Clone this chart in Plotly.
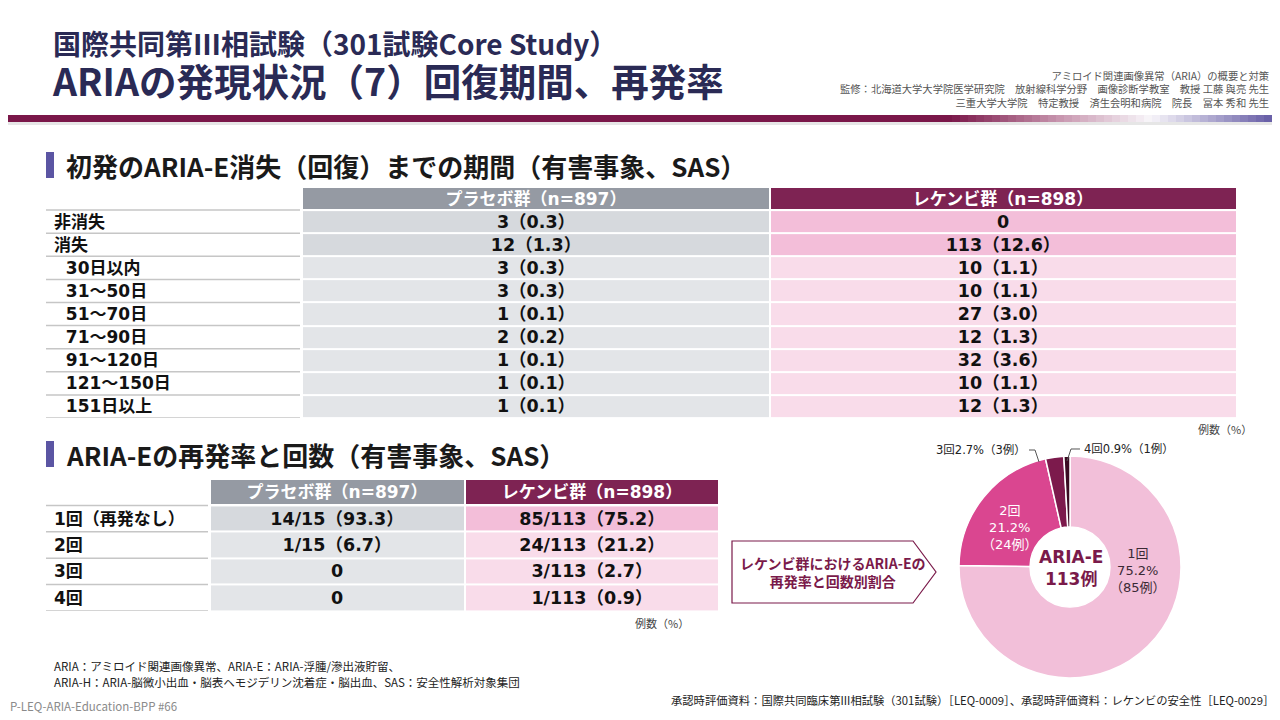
import plotly.graph_objects as go

# ページ余白(8px)の分だけずらして、画面上の座標で配置する
OFF = 8
W, H = 1280 - OFF, 720 - OFF
JP = 'Noto Sans CJK JP'
BODY = 'DejaVu Sans, Noto Sans CJK JP'
MAROON = '#7A1A4A'
NAVY = '#2A2A55'


def px(x):
    return (x - OFF) / W


def py(y):
    return 1 - (y - OFF) / H


# 初発のARIA-E消失（回復）までの期間
period_labels = ['非消失', '消失', '30日以内', '31～50日', '51～70日', '71～90日',
                 '91～120日', '121～150日', '151日以上']
period_indent = [0, 0, 1, 1, 1, 1, 1, 1, 1]
period_placebo = ['3（0.3）', '12（1.3）', '3（0.3）', '3（0.3）', '1（0.1）',
                  '2（0.2）', '1（0.1）', '1（0.1）', '1（0.1）']
period_lecanemab = ['0', '113（12.6）', '10（1.1）', '10（1.1）', '27（3.0）',
                    '12（1.3）', '32（3.6）', '10（1.1）', '12（1.3）']

# ARIA-Eの再発率と回数
recur_labels = ['1回（再発なし）', '2回', '3回', '4回']
recur_placebo = ['14/15（93.3）', '1/15（6.7）', '0', '0']
recur_lecanemab = ['85/113（75.2）', '24/113（21.2）', '3/113（2.7）', '1/113（0.9）']

group_headers = ['プラセボ群（n=897）', 'レケンビ群（n=898）']

# レケンビ群 回数別割合
pie_labels = ['1回', '2回', '3回', '4回']
pie_counts = [85, 24, 3, 1]
pie_pct = [75.2, 21.2, 2.7, 0.9]
pie_colors = ['#F2BFD9', '#DA4690', '#7C1A4C', '#3A0B22']

CELL_SCALE = [[0, '#D6D9DD'], [1 / 3, '#E3E5E8'], [2 / 3, '#F3BED9'], [1, '#F9DCEA']]
HEAD_SCALE = [[0, '#959AA3'], [1, '#7E2353']]

fig = go.Figure()
shapes = []
ann = []


def add_table(xa, ya, labels, placebo, lecanemab, n_dark, label_x0, x_cols, y_top, y_bottom, indent=None):
    n = len(labels)
    # 見出し行
    fig.add_trace(go.Heatmap(
        x=[0, 1], y=[0], z=[[0, 1]], text=[group_headers], texttemplate='%{text}',
        textfont=dict(family=BODY, size=17, color='white', weight='bold'),
        colorscale=HEAD_SCALE, zmin=0, zmax=1, showscale=False, xgap=2, ygap=2,
        hoverinfo='skip', xaxis=xa, yaxis=ya))
    # 本体
    z = [[0 if i < n_dark else 1, 2 if i < n_dark else 3] for i in range(n)]
    txt = [[p, l] for p, l in zip(placebo, lecanemab)]
    fig.add_trace(go.Heatmap(
        x=[0, 1], y=list(range(1, n + 1)), z=z, text=txt, texttemplate='%{text}',
        textfont=dict(family=BODY, size=17.5, color='#111111', weight='bold'),
        colorscale=CELL_SCALE, zmin=0, zmax=3, showscale=False, xgap=2, ygap=2,
        hoverinfo='skip', xaxis=xa, yaxis=ya))
    key_x = 'xaxis' if xa == 'x' else 'xaxis' + xa[1:]
    key_y = 'yaxis' if ya == 'y' else 'yaxis' + ya[1:]
    fig.layout[key_x] = dict(domain=[px(x_cols[0]), px(x_cols[1])], range=[-0.5, 1.5],
                             visible=False, fixedrange=True, anchor=ya)
    fig.layout[key_y] = dict(domain=[py(y_bottom), py(y_top)], range=[n + 0.5, -0.5],
                             visible=False, fixedrange=True, anchor=xa)
    # 項目列
    for i, lab in enumerate(labels):
        pad = '\u00a0\u00a0' * (indent[i] if indent else 0)
        ann.append(dict(x=px(label_x0 + 6), y=i + 1, xref='paper', yref=ya, text=pad + lab,
                        showarrow=False, xanchor='left', yanchor='middle',
                        font=dict(family=BODY, size=17, color='#111111', weight='bold')))
    for i in range(n + 1):
        shapes.append(dict(type='line', xref='paper', yref=ya, x0=px(label_x0), x1=px(x_cols[0] - 2),
                           y0=i + 0.5, y1=i + 0.5, line=dict(color='#C6C6C6', width=1.5)))


add_table('x', 'y', period_labels, period_placebo, period_lecanemab, 2,
          46, (302, 1237), 187, 418, indent=period_indent)
add_table('x2', 'y2', recur_labels, recur_placebo, recur_lecanemab, 1,
          46, (210, 719), 479, 611)

# ---- ドーナツ
fig.add_trace(go.Pie(
    labels=pie_labels, values=pie_counts,
    domain=dict(x=[px(959), px(1181)], y=[py(678), py(456)]),
    hole=0.36, sort=False, direction='clockwise', rotation=0,
    marker=dict(colors=pie_colors, line=dict(color='white', width=1.5)),
    textinfo='none', showlegend=False, hoverinfo='label+percent',
))

# 帯（グラデーション）
stops = [(0, (122, 23, 73)), (950, (122, 23, 73)), (1060, (200, 150, 175)),
         (1150, (248, 246, 250)), (1280, (92, 82, 160))]


def band_color(x):
    for (x0, c0), (x1, c1) in zip(stops[:-1], stops[1:]):
        if x0 <= x <= x1:
            t = (x - x0) / (x1 - x0) if x1 > x0 else 0
            return 'rgb(%d,%d,%d)' % tuple(round(a + (b - a) * t) for a, b in zip(c0, c1))
    return 'rgb(92,82,160)'


step = 8
for x in range(0, 1280, step):
    shapes.append(dict(type='rect', xref='paper', yref='paper', x0=px(x), x1=px(x + step + 0.5),
                       y0=py(122), y1=py(115), fillcolor=band_color(x + step / 2), line_width=0, layer='below'))
shapes.append(dict(type='rect', xref='paper', yref='paper', x0=px(0), x1=px(1280), y0=py(125), y1=py(122),
                   fillcolor='#E6E6E6', line_width=0, layer='below'))

# 見出しマーカー
for top in (152, 441):
    shapes.append(dict(type='rect', xref='paper', yref='paper', x0=px(46), x1=px(54),
                       y0=py(top + 26), y1=py(top), fillcolor='#5B55A3', line_width=0))

# 吹き出し
pent = [(732, 541), (913, 541), (936, 572), (913, 603), (732, 603)]
path = 'M ' + ' L '.join('%f,%f' % (px(a), py(b)) for a, b in pent) + ' Z'
shapes.append(dict(type='path', xref='paper', yref='paper', path=path,
                   fillcolor='white', line=dict(color=MAROON, width=1.2)))

# 引き出し線
for pts in ([(1029, 450), (1035, 450), (1039, 462)], [(1067, 461), (1071, 449), (1080, 449)]):
    p = 'M ' + ' L '.join('%f,%f' % (px(a), py(b)) for a, b in pts)
    shapes.append(dict(type='path', xref='paper', yref='paper', path=p,
                       line=dict(color='#555555', width=1)))


def text(x, y, s, size, color='#222222', anchor='left', family=JP):
    ann.append(dict(x=px(x), y=py(y), xref='paper', yref='paper', text=s, showarrow=False,
                    xanchor=anchor, yanchor='middle', align=anchor,
                    font=dict(family=family, size=size, color=color)))


# タイトル（2行を1つの注釈に、行間は基準フォントで決まる）
text(50, 65.5, '<b><span style="font-size:28px">国際共同第Ⅲ相試験（301試験Core Study）</span></b><br>'
               '<b><span style="font-size:37.5px">ARIAの発現状況（7）回復期間、再発率</span></b>', 31.5, NAVY)
text(1271, 89, 'アミロイド関連画像異常（ARIA）の概要と対策<br>'
               '監修：北海道大学大学院医学研究院　放射線科学分野　画像診断学教室　教授 工藤 與亮 先生<br>'
               '三重大学大学院　特定教授　済生会明和病院　院長　冨本 秀和 先生', 10.3, '#555555', 'right')

text(64, 165, '<b>初発のARIA-E消失（回復）までの期間（有害事象、SAS）</b>', 26, '#1A1A1A')
text(64, 454, '<b>ARIA-Eの再発率と回数（有害事象、SAS）</b>', 26, '#1A1A1A')

text(1254, 429, '例数（%）', 11, '#444444', 'right')
text(691, 623, '例数（%）', 11, '#444444', 'right')

text(833, 572, '<b>レケンビ群におけるARIA-Eの<br>再発率と回数別割合</b>', 14, MAROON, 'center')

# ドーナツのラベル
text(1071, 568, '<b>ARIA-E<br>113例</b>', 17, MAROON, 'center', BODY)
text(1138, 570, '%s<br>%.1f%%<br>（%d例）' % (pie_labels[0], pie_pct[0], pie_counts[0]), 13, '#3A2A35', 'center', BODY)
text(1010, 527, '%s<br>%.1f%%<br>（%d例）' % (pie_labels[1], pie_pct[1], pie_counts[1]), 13, 'white', 'center', BODY)
text(1028, 450, '%s%.1f%%（%d例）' % (pie_labels[2], pie_pct[2], pie_counts[2]), 11.5, '#222222', 'right', BODY)
text(1082, 449, '%s%.1f%%（%d例）' % (pie_labels[3], pie_pct[3], pie_counts[3]), 11.5, '#222222', 'left', BODY)

text(52, 666, 'ARIA：アミロイド関連画像異常、ARIA-E：ARIA-浮腫/滲出液貯留、', 11.5, '#222222')
text(52, 682, 'ARIA-H：ARIA-脳微小出血・脳表ヘモジデリン沈着症・脳出血、SAS：安全性解析対象集団', 11.5, '#222222')
text(8, 706, 'P-LEQ-ARIA-Education-BPP #66', 11.5, '#8A8A8A')
text(1276, 700, '承認時評価資料：国際共同臨床第III相試験（301試験）［LEQ-0009］、承認時評価資料：レケンビの安全性［LEQ-0029］',
     11.3, '#222222', 'right')

fig.update_layout(
    width=W, height=H,
    margin=dict(l=0, r=0, t=0, b=0),
    paper_bgcolor='white', plot_bgcolor='white',
    shapes=shapes, annotations=ann,
    font=dict(family=JP),
)

fig.write_html('out.html')
